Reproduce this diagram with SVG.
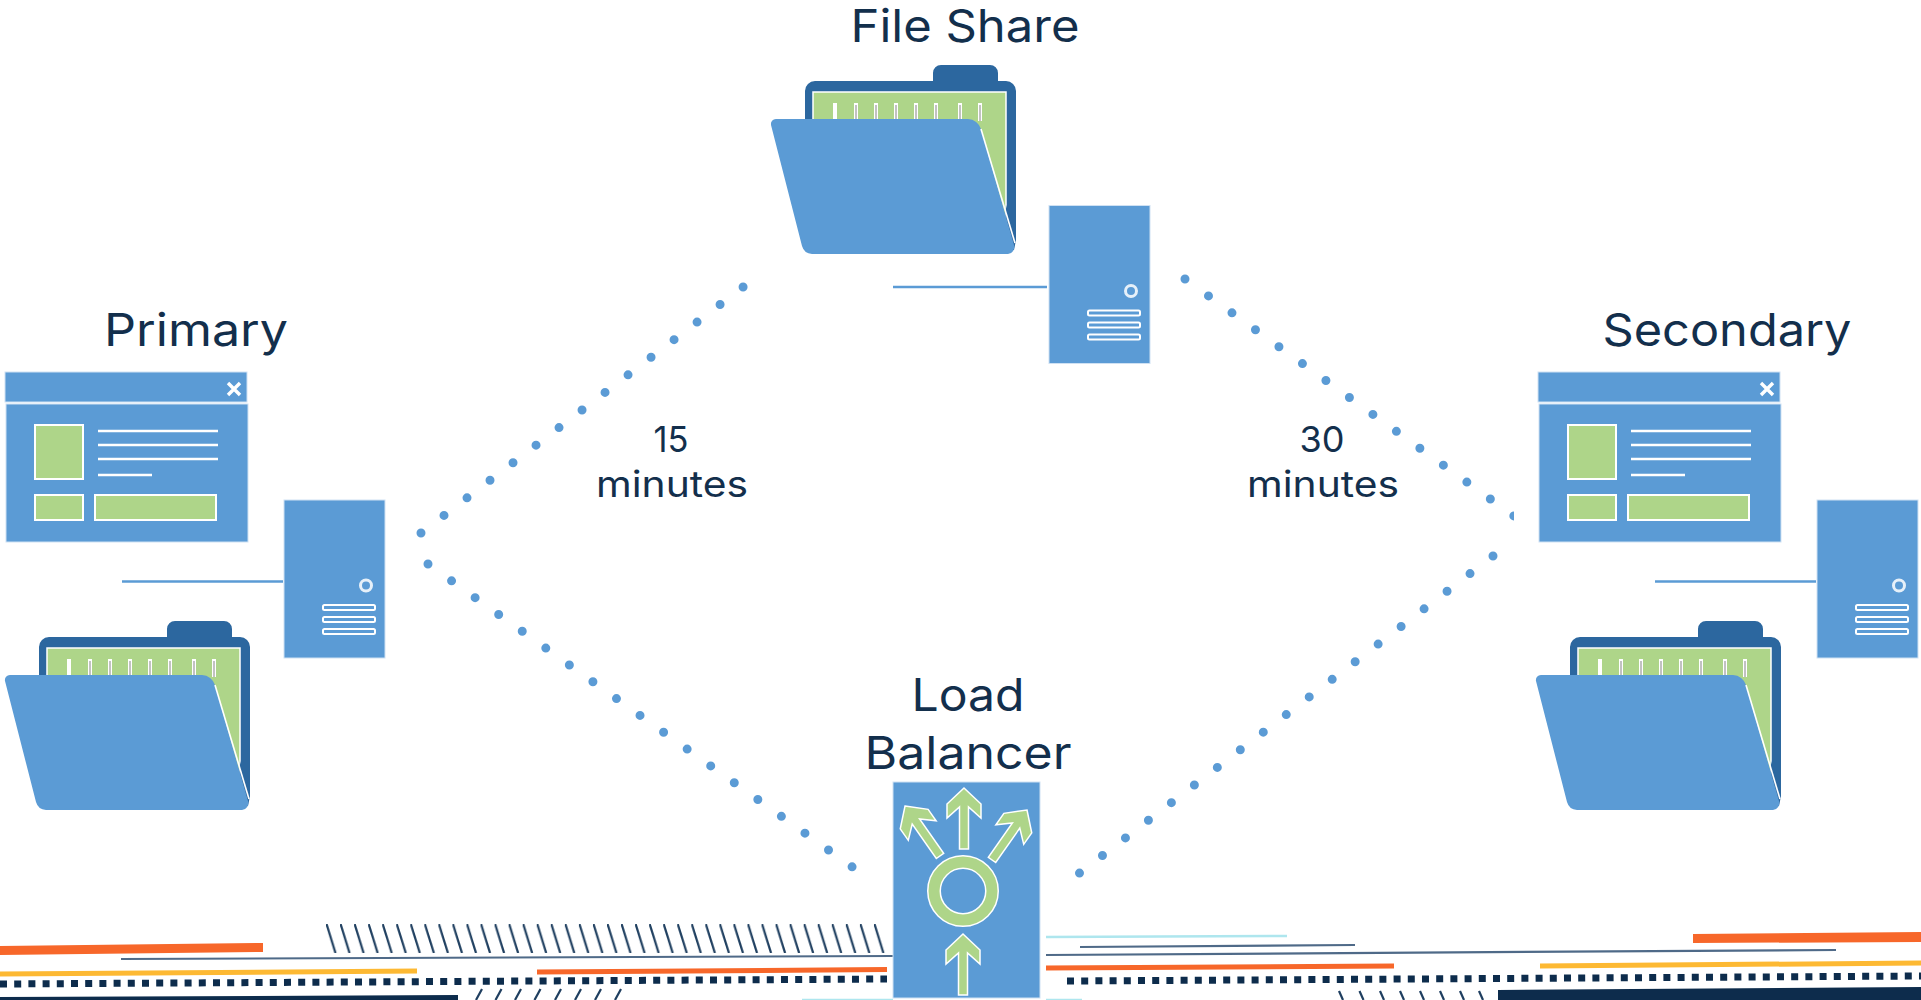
<svg xmlns="http://www.w3.org/2000/svg" width="1921" height="1000" viewBox="0 0 1921 1000">
<style>
.lbl{font-family:"Inter","Noto Sans",sans-serif;font-size:45px;fill:#132f4c;text-anchor:middle}
.sm{font-size:36px}
.blue{fill:#5b9bd5;stroke:#cfe1f3;stroke-width:1}
.dark{fill:#2c679f}
.grn{fill:#aed589;stroke:#fff;stroke-width:2}
.wl{stroke:#fff;stroke-width:2.5;fill:none}
.bar{fill:#5b9bd5;stroke:#fff;stroke-width:2}
.dots{fill:none;stroke:#5b9bd5;stroke-width:9;stroke-linecap:round;stroke-dasharray:0 28.95}
.link{stroke:#5b9bd5;stroke-width:2.4;fill:none}
.g{fill:none;stroke:#4f6a88;stroke-width:2.2}
.sq{fill:none;stroke:#0d2c4c;stroke-width:7;stroke-dasharray:7 7.2}
.h{fill:none;stroke:#1f3f60;stroke-width:2.2}
.o{fill:none;stroke:#f7672a}
.y{fill:none;stroke:#fdb933;stroke-width:5}
.c{fill:none;stroke:#aee6ee;stroke-width:2.5}
.ar{fill:#aed589;stroke:#fff;stroke-width:1.5}
</style>
<defs>
<pattern id="hatch" patternUnits="userSpaceOnUse" x="326" y="924" width="14.05" height="29">
<path d="M0.5 0L9.5 29" stroke="#1f3f60" stroke-width="2.2" fill="none"/>
</pattern>
<clipPath id="rightClip"><rect x="0" y="0" width="1514" height="1000"/></clipPath>
<g id="folder">
<path class="dark" d="M933 81V73a8 8 0 0 1 8-8h49a8 8 0 0 1 8 8v8h8a10 10 0 0 1 10 10V240L1014 246 980 200H805V91a10 10 0 0 1 10-10Z"/>
<rect x="813" y="92" width="193" height="150" fill="#aed589" stroke="#fff" stroke-width="1.5"/>
<path d="M835 103v18M856 103v18M876 103v18M896 103v18M916 103v18M936 103v18M960 103v18M980 103v18" stroke="#fff" stroke-width="4" fill="none"/>
<path d="M856 105v16M876 105v16M896 105v16M916 105v16M936 105v16M960 105v16M980 105v16" stroke="#9a9a9a" stroke-width="1.2" fill="none"/>
<path d="M1006 205L1016 240L1014 250L1004 250Z" class="dark"/>
<path d="M776 119H968a14 14 0 0 1 13 10L1014 245a7 7 0 0 1-6 9H812a11 11 0 0 1-10-8L771 125a5 5 0 0 1 5-6Z" fill="#5b9bd5"/>
<path d="M981 129L1015 243" stroke="#fff" stroke-width="1.6" fill="none"/>
</g>
<g id="server">
<rect class="blue" x="1049" y="205.500" width="101" height="158"/>
<circle cx="1131" cy="291" r="5.500" fill="none" stroke="#fff" stroke-width="3" opacity=".85"/>
<rect class="bar" x="1088" y="310.500" width="52" height="5" rx="1.500"/>
<rect class="bar" x="1088" y="322.500" width="52" height="5" rx="1.500"/>
<rect class="bar" x="1088" y="334.500" width="52" height="5" rx="1.500"/>
</g>
<g id="window">
<rect class="blue" x="5" y="372" width="242" height="30"/>
<rect class="blue" x="6" y="404" width="242" height="138"/>
<path d="M228 383l12 12M240 383l-12 12" stroke="#fff" stroke-width="3.400" fill="none"/>
<rect class="grn" x="35" y="425" width="48" height="54"/>
<path class="wl" stroke-width="2" d="M98 431H218M98 445H218M98 459H218M98 475H152"/>
<rect class="grn" x="35" y="495" width="48" height="25"/>
<rect class="grn" x="95" y="495" width="121" height="25"/>
</g>
<path id="arrow" d="M0 -0L17 16V30L4.500 19V61H-4.500V19L-17 30V16Z"/>
</defs>

<g id="connectors">
<path class="dots" d="M421 533L745 285.500"/>
<path class="dots" d="M428 564L853 867.500"/>
<path class="dots" clip-path="url(#rightClip)" d="M1185 279L1516 517.500"/>
<path class="dots" d="M1493 556L1079 873.500"/>
<path class="link" d="M893 287H1047"/>
<path class="link" d="M122 581.500H283"/>
<path class="link" d="M1655 581.500H1816"/>
</g>

<g id="strip">
<path d="M0 946L263 943V952L0 955Z" fill="#f7672a"/>
<path class="g" d="M121 959L893 956"/>
<path class="y" d="M0 974L417 971"/>
<path class="sq" d="M0 984L887 979"/>
<path d="M0 997L458 995V1000H0Z" fill="#0d2c4c"/>
<rect x="326" y="924" width="560" height="29" fill="url(#hatch)"/>
<path class="o" stroke-width="5" d="M537 972L887 969.500"/>
<path class="h" d="M476 1000l6-11M495.500 1000l6-11M515 1000l6-11M534.500 1000l6-11M555 1000l6-11M575 1000l6-11M595 1000l6-11M615 1000l6-11"/>
<path class="c" d="M802 1000H893"/>
<path class="c" d="M1046 937L1287 936"/>
<path class="c" d="M1046 1000H1082"/>
<path class="g" d="M1080 947L1355 945"/>
<path class="g" d="M1046 955L1836 950"/>
<path class="o" stroke-width="5" d="M1046 968L1394 966"/>
<path class="sq" d="M1067 981L1921 976"/>
<path class="y" d="M1540 966L1921 963"/>
<path d="M1693 934L1921 932V942L1693 943Z" fill="#f7672a"/>
<path d="M1498 990L1921 987V1000H1498Z" fill="#0d2c4c"/>
<path class="h" d="M1339 991l4 9M1359.500 991l4 9M1380 991l4 9M1400 991l4 9M1420 991l4 9M1440 991l4 9M1460 991l4 9M1479 991l4 9"/>
</g>

<g id="file-share">
<use href="#folder"/>
<use href="#server"/>
<text class="lbl" x="965" y="42" textLength="229" lengthAdjust="spacingAndGlyphs">File Share</text>
</g>
<g id="primary">
<text class="lbl" x="196" y="346" textLength="184" lengthAdjust="spacingAndGlyphs">Primary</text>
<use href="#window"/>
<use href="#folder" x="-766" y="556"/>
<use href="#server" x="-765" y="294.500"/>
</g>
<g id="secondary">
<text class="lbl" x="1727" y="346" textLength="249" lengthAdjust="spacingAndGlyphs">Secondary</text>
<use href="#window" x="1533"/>
<use href="#folder" x="765" y="556"/>
<use href="#server" x="768" y="294.500"/>
</g>
<g id="load-balancer">
<text class="lbl" x="968" y="711" textLength="113" lengthAdjust="spacingAndGlyphs">Load</text>
<text class="lbl" x="968" y="769" textLength="207" lengthAdjust="spacingAndGlyphs">Balancer</text>
<rect class="blue" x="893" y="782" width="147" height="216"/>
<circle cx="963" cy="891" r="29" fill="none" stroke="#fff" stroke-width="14"/>
<circle cx="963" cy="891" r="29" fill="none" stroke="#aed589" stroke-width="11"/>
<use class="ar" href="#arrow" x="964" y="788"/>
<use class="ar" href="#arrow" x="963" y="934"/>
<use class="ar" href="#arrow" transform="translate(905 806) rotate(-35)"/>
<use class="ar" href="#arrow" transform="translate(1027 810) rotate(35)"/>
</g>
<g id="label-15">
<text class="lbl sm" x="671" y="452" textLength="35" lengthAdjust="spacingAndGlyphs">15</text>
<text class="lbl sm" x="672" y="497" textLength="152" lengthAdjust="spacingAndGlyphs">minutes</text>
</g>
<g id="label-30">
<text class="lbl sm" x="1322" y="452" textLength="45" lengthAdjust="spacingAndGlyphs">30</text>
<text class="lbl sm" x="1323" y="497" textLength="152" lengthAdjust="spacingAndGlyphs">minutes</text>
</g>
</svg>
